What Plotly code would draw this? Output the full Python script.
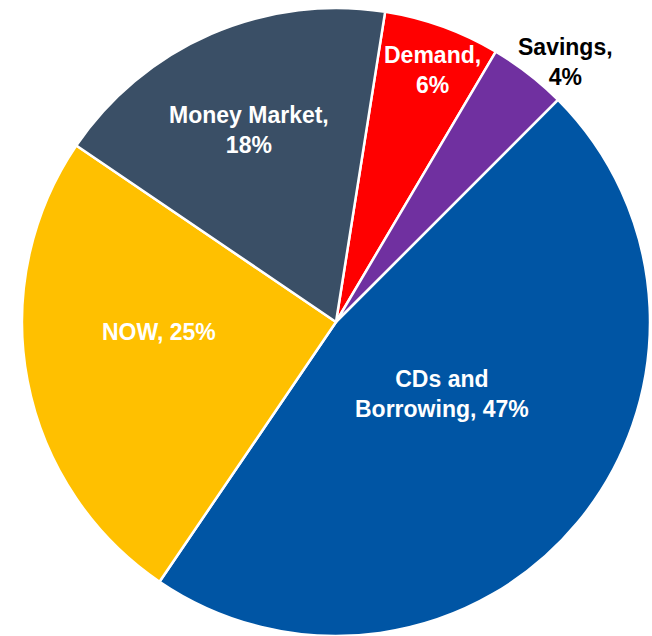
import math
import plotly.graph_objects as go

# ---- data ----
categories = ["Demand", "Savings", "CDs and Borrowing", "NOW", "Money Market"]
shares = [6, 4, 47, 25, 18]
label_text = ["Demand,<br>6%", "Savings,<br>4%", "CDs and<br>Borrowing, 47%", "NOW, 25%", "Money Market,<br>18%"]

# ---- style ----
colors = ["#FF0000", "#7030A0", "#0055A4", "#FFC000", "#3A4F66"]
text_colors = ["white", "black", "white", "white", "white"]
# label placement in polar form (degrees clockwise from 12 o'clock, fraction of radius)
label_angle = [21.0, 41.5, 124.2, 266.8, 335.6]
label_radius = [0.86, 1.105, 0.41, 0.565, 0.672]

W, H = 652, 636
cx_px, cy_px, r_px = 336, 322, 314
start_angle = 9

fig = go.Figure(go.Pie(
    labels=categories,
    values=shares,
    sort=False,
    direction="clockwise",
    rotation=start_angle,
    marker=dict(colors=colors, line=dict(color="white", width=2.5)),
    textinfo="none",
    hoverinfo="label+percent",
    showlegend=False,
    domain=dict(x=[(cx_px - r_px) / W, (cx_px + r_px) / W],
                y=[(H - cy_px - r_px) / H, (H - cy_px + r_px) / H]),
))

annotations = []
for txt, col, ang, fr in zip(label_text, text_colors, label_angle, label_radius):
    a = math.radians(ang)
    xp = cx_px + fr * r_px * math.sin(a)
    yp = cy_px - fr * r_px * math.cos(a)
    annotations.append(dict(
        x=xp / W, y=1 - yp / H, xref="paper", yref="paper",
        text="<b>" + txt + "</b>", showarrow=False,
        xanchor="center", yanchor="middle", align="center",
        font=dict(family="Arial, Liberation Sans, sans-serif", size=23, color=col),
    ))

fig.update_layout(
    width=W, height=H,
    margin=dict(l=0, r=0, t=0, b=0),
    paper_bgcolor="white", plot_bgcolor="white",
    annotations=annotations,
)

fig.write_html("out.html", config={"displayModeBar": False},
               post_script="document.body.style.margin='0';document.body.style.overflow='hidden';")
